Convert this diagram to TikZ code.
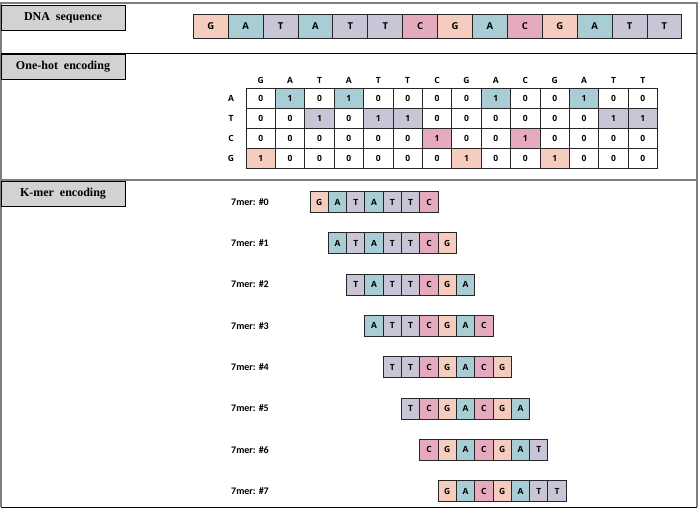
\documentclass[tikz,border=0pt]{standalone}
\usepackage{fontspec}
\setmainfont{Liberation Serif}
\newfontfamily\cellfont{Open Sans}
\newfontfamily\kmerfont{Carlito}
\usepackage{tikz}
\usetikzlibrary{positioning}

\definecolor{colG}{HTML}{F5CDBE}
\definecolor{colA}{HTML}{A8CDD4}
\definecolor{colT}{HTML}{C9C5D6}
\definecolor{colC}{HTML}{E5AABD}
\definecolor{boxgray}{HTML}{D3D1D2}
\definecolor{framegray}{HTML}{7F7F7F}

\tikzset{
	baseG/.style={fill=colG},
	baseA/.style={fill=colA},
	baseT/.style={fill=colT},
	baseC/.style={fill=colC},
	titlebox/.style={draw=black, fill=boxgray, line width=0.9pt, minimum width=124pt, minimum height=25pt, inner sep=0pt, font=\bfseries\fontsize{12}{14}\selectfont},
	seqcell/.style={draw=black!85, line width=0.9pt, minimum width=34.9pt, minimum height=24pt, inner sep=0pt, font=\cellfont\bfseries\fontsize{9.5}{11}\selectfont},
	hotcell/.style={draw=black!85, line width=0.9pt, minimum width=29.4pt, minimum height=20pt, inner sep=0pt, font=\cellfont\bfseries\fontsize{8.5}{10}\selectfont},
	kcell/.style={draw=black!85, line width=0.9pt, minimum width=18.3pt, minimum height=21pt, inner sep=0pt, font=\cellfont\bfseries\fontsize{8.5}{10}\selectfont},
	hotlabel/.style={inner sep=0pt, font=\cellfont\bfseries\fontsize{8.5}{10}\selectfont},
	kmerlabel/.style={anchor=west, inner sep=0pt, font=\kmerfont\bfseries\fontsize{10}{12}\selectfont}
}

\def\seqarr{{"G","A","T","A","T","T","C","G","A","C","G","A","T","T"}}

\begin{document}
\begin{tikzpicture}[x=1pt, y=-1pt]
	\useasboundingbox (0,0) rectangle (700,510);
	
	%Frame
	\draw[framegray, line width=1.2pt] (1,507) -- (1,3) -- (697,3) -- (697,507);
	\draw[black, line width=1pt] (1,507) -- (697,507);
	\draw[black, line width=0.8pt] (1,53) -- (697,53);
	\draw[framegray, line width=1.5pt] (1,180) -- (697,180);
	
	%Titles
	\node[titlebox] (tseq) at (63,17.5) {DNA\ \ sequence};
	\node[titlebox] (thot) at (63,66.5) {One-hot\ \ encoding};
	\node[titlebox] (tkmer) at (63,194) {K-mer\ \ encoding};
	
	%Sequence
	\foreach \nt [count=\i from 0] in {G,A,T,A,T,T,C,G,A,C,G,A,T,T}
		\node[seqcell, base\nt] (s\i) at ({210.75+34.9*\i},26.2) {\nt};
	
	%One-hot
	\foreach \row [count=\j from 0] in {A,T,C,G}
		\node[hotlabel] (r\row) at (231,{98.5+20*\j}) {\row};
	\foreach \nt [count=\i from 0] in {G,A,T,A,T,T,C,G,A,C,G,A,T,T}{
		\node[hotlabel] (h\i) at ({260.7+29.4*\i},80) {\nt};
		\foreach \row [count=\j from 0] in {A,T,C,G}{
			\ifx\nt\row
				\node[hotcell, base\nt] (o\i\row) at ({260.7+29.4*\i},{98.5+20*\j}) {1};
			\else
				\node[hotcell] (o\i\row) at ({260.7+29.4*\i},{98.5+20*\j}) {0};
			\fi
		}
	}
	
	%K-mers
	\foreach \k in {0,...,7}{
		\node[kmerlabel] (k\k) at (231,{202+41.3*\k}) {7mer: \#\k};
		\foreach \p in {0,...,6}{
			\pgfmathsetmacro\nt{\seqarr[\k+\p]}
			\node[kcell, base\nt] (k\k c\p) at ({319.15+18.3*(\k+\p)},{202+41.3*\k}) {\nt};
		}
	}
\end{tikzpicture}
\end{document}
